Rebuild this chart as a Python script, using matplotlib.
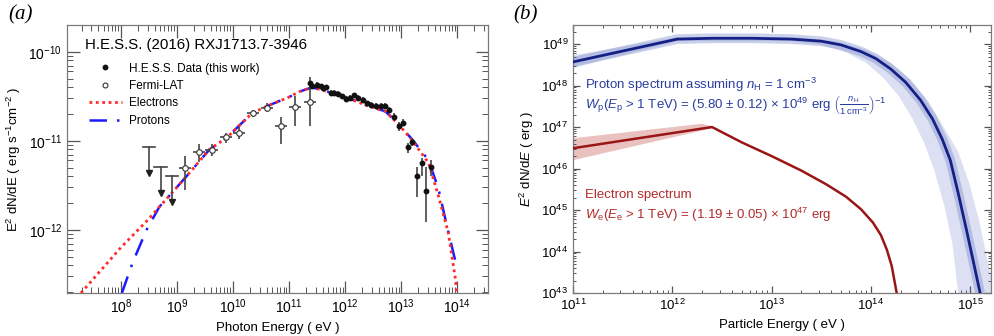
import matplotlib
matplotlib.use("Agg")
import matplotlib.pyplot as plt
import numpy as np
from matplotlib.ticker import LogLocator, NullFormatter
from matplotlib.lines import Line2D

plt.rcParams.update({
    "font.family": "Liberation Sans",
    "mathtext.fontset": "custom",
    "mathtext.rm": "Liberation Sans",
    "mathtext.it": "Liberation Sans:italic",
    "mathtext.bf": "Liberation Sans:bold",
    "font.size": 9.5,
    "axes.linewidth": 0.9,
    "axes.edgecolor": "#7a7a7a",
})

# ---- panel (a): log10 E [eV], log10 E^2 dN/dE [erg s-1 cm-2] ----
hess_logE = [11.37, 11.41, 11.50, 11.57, 11.61, 11.66, 11.75, 11.80, 11.87, 11.95,
             12.01, 12.09, 12.16, 12.23, 12.32, 12.39, 12.47, 12.55, 12.64, 12.71,
             12.78, 12.87, 12.96, 13.04, 13.12, 13.19, 13.28, 13.37, 13.45, 13.53]
hess_logF = [-10.35, -10.39, -10.37, -10.39, -10.41, -10.40, -10.46, -10.46, -10.47, -10.50,
             -10.53, -10.52, -10.49, -10.52, -10.54, -10.58, -10.60, -10.61, -10.61, -10.61,
             -10.65, -10.73, -10.84, -10.80, -11.07, -11.01, -11.40, -11.25, -11.56, -11.30]
hess_err_up = [0.07, 0.03, 0.03, 0.03, 0.03, 0.03, 0.03, 0.03, 0.03, 0.03,
               0.03, 0.03, 0.03, 0.03, 0.03, 0.03, 0.03, 0.03, 0.03, 0.03,
               0.03, 0.04, 0.05, 0.04, 0.05, 0.04, 0.11, 0.06, 0.27, 0.08]
hess_err_dn = [0.08, 0.03, 0.03, 0.03, 0.03, 0.03, 0.03, 0.03, 0.03, 0.03,
               0.03, 0.03, 0.03, 0.03, 0.03, 0.03, 0.03, 0.03, 0.03, 0.03,
               0.03, 0.04, 0.05, 0.04, 0.07, 0.05, 0.23, 0.15, 0.35, 0.10]

fermi_logE = [9.15, 9.39, 9.62, 9.88, 10.11, 10.36, 10.61, 10.86, 11.11, 11.37]
fermi_logF = [-11.31, -11.13, -11.10, -10.96, -10.91, -10.69, -10.63, -10.84, -10.62, -10.57]
fermi_hi = [-11.17, -11.04, -11.04, -10.91, -10.85, -10.65, -10.58, -10.73, -10.50, -10.37]
fermi_lo = [-11.55, -11.24, -11.17, -11.02, -10.98, -10.73, -10.68, -11.04, -10.84, -10.84]
fermi_halfbin = 0.11

ul_logE = [8.50, 8.71, 8.91]
ul_logF = [-11.07, -11.30, -11.40]

el_logE = [7.29, 8.00, 8.48, 8.92, 9.17, 9.58, 9.90, 10.34, 10.65, 11.00, 11.18, 11.41,
           11.59, 12.01, 12.37, 12.72, 12.96, 13.19, 13.49, 13.67, 13.84, 13.97, 13.99]
el_logF = [-12.71, -12.20, -11.89, -11.58, -11.40, -11.10, -10.96, -10.69, -10.60, -10.51,
           -10.45, -10.40, -10.43, -10.51, -10.60, -10.67, -10.82, -10.99, -11.25, -11.63,
           -12.03, -12.56, -12.71]
pr_logE = [8.02, 8.21, 8.46, 8.69, 8.92, 9.17, 9.58, 9.90, 10.34, 10.65, 11.00, 11.18,
           11.41, 11.59, 12.01, 12.37, 12.72, 12.96, 13.19, 13.49, 13.67, 13.81, 13.97]
pr_logF = [-12.71, -12.37, -12.00, -11.74, -11.58, -11.40, -11.10, -10.96, -10.69, -10.60,
           -10.51, -10.45, -10.40, -10.43, -10.51, -10.60, -10.67, -10.82, -10.98, -11.22,
           -11.55, -11.94, -12.36]

a_xticks = [1e8, 1e9, 1e10, 1e11, 1e12, 1e13, 1e14]
a_yticks = [1e-12, 1e-11, 1e-10]

# ---- panel (b): log10 E [eV], log10 E^2 dN/dE [erg] ----
p_logE = [11.00, 12.05, 12.40, 12.80, 13.20, 13.50, 13.70, 13.90, 14.05, 14.20,
          14.35, 14.50, 14.62, 14.72, 14.80, 14.88, 14.96, 15.03, 15.10]
p_logW = [48.57, 49.12, 49.14, 49.14, 49.12, 49.07, 48.98, 48.82, 48.65, 48.40,
          48.08, 47.65, 47.20, 46.70, 46.20, 45.40, 44.55, 43.78, 43.00]
p_hi_logE = [11.00, 12.05, 13.30, 13.65, 13.95, 14.20, 14.40, 14.58, 14.72, 14.88,
             14.99, 15.09, 15.17, 15.25]
p_hi_logW = [48.73, 49.17, 49.16, 49.07, 48.86, 48.55, 48.15, 47.62, 47.05, 46.40,
             45.65, 44.75, 43.85, 43.00]
p_lo_logE = [11.00, 12.05, 13.20, 13.50, 13.75, 13.95, 14.12, 14.28, 14.42, 14.54,
             14.64, 14.74, 14.82, 14.88]
p_lo_logW = [48.42, 49.07, 49.07, 48.98, 48.80, 48.55, 48.20, 47.75, 47.20, 46.60,
             45.95, 45.10, 44.20, 43.00]

e_logE = [11.00, 12.40, 12.70, 13.00, 13.30, 13.55, 13.75, 13.90, 14.02, 14.10,
          14.16, 14.21, 14.26]
e_logW = [46.49, 47.00, 46.63, 46.30, 45.95, 45.62, 45.32, 45.02, 44.70, 44.40,
          44.05, 43.65, 43.00]
e_hi_logE = [11.00, 12.30, 12.40]
e_hi_logW = [46.73, 47.08, 47.02]
e_lo_logE = [11.00, 12.40]
e_lo_logW = [46.20, 46.97]

b_xticks = [1e11, 1e12, 1e13, 1e14, 1e15]
b_yticks = [1e43, 1e44, 1e45, 1e46, 1e47, 1e48, 1e49]


def p10(v):
    return 10.0 ** np.asarray(v, dtype=float)


def log_ticks(a, xt, yt, major_len, minor_len, lsize):
    a.set_xticks(xt)
    a.set_yticks(yt)
    a.xaxis.set_minor_locator(LogLocator(base=10, subs=np.arange(2, 10), numticks=40))
    a.yaxis.set_minor_locator(LogLocator(base=10, subs=np.arange(2, 10), numticks=40))
    a.xaxis.set_minor_formatter(NullFormatter())
    a.yaxis.set_minor_formatter(NullFormatter())
    a.tick_params(which="both", direction="in", top=True, right=True, color="#555555",
                  labelsize=lsize)
    a.tick_params(which="major", length=major_len, width=0.9)
    a.tick_params(which="minor", length=minor_len, width=0.7)


fig = plt.figure(figsize=(9.95, 3.36), dpi=100)
ax = fig.add_axes([0.0673, 0.128, 0.4232, 0.7976])
bx = fig.add_axes([0.5759, 0.128, 0.4201, 0.7976])

# =========== panel (a) ===========
ax.plot(p10(pr_logE), p10(pr_logF), color="#1a1aff", lw=1.8,
        linestyle=(0, (7, 4, 1, 4)), zorder=2)
ax.plot(p10(el_logE), p10(el_logF), color="#ff2a2a", lw=2.0,
        linestyle=(0, (1, 1.3)), zorder=3)

fe = p10(fermi_logE)
ff = p10(fermi_logF)
ax.errorbar(fe, ff,
            xerr=[fe - fe * 10 ** -fermi_halfbin, fe * 10 ** fermi_halfbin - fe],
            yerr=[ff - p10(fermi_lo), p10(fermi_hi) - ff],
            fmt="o", ms=4, mfc="white", mec="#333333", mew=0.8,
            ecolor="#444444", elinewidth=1.2, capsize=0, zorder=4)

# Fermi-LAT upper limits: cap + line + arrow head
ue = p10(ul_logE)
uf = p10(ul_logF)
for e, f in zip(ue, uf):
    ax.plot([e, e], [f, f * 10 ** -0.27], color="#444444", lw=1.2, zorder=4)
    ax.plot([e * 10 ** -0.11, e * 10 ** 0.11], [f, f], color="#444444", lw=1.2, zorder=4)
ax.plot(ue, uf * 10 ** -0.29, "v", color="#222222", ms=4, zorder=4)

he = p10(hess_logE)
hf = p10(hess_logF)
ax.errorbar(he, hf,
            yerr=[hf - hf * 10 ** -np.array(hess_err_dn), hf * 10 ** np.array(hess_err_up) - hf],
            fmt="o", ms=3.2, color="#111111", ecolor="#444444", elinewidth=1.2,
            capsize=0, zorder=5)

ax.set_xscale("log")
ax.set_yscale("log")
ax.set_xlim(10 ** 7.04, 10 ** 14.55)
ax.set_ylim(10 ** -12.71, 10 ** -9.70)
log_ticks(ax, a_xticks, a_yticks, 9, 4, 10)
ax.set_xlabel("Photon Energy ( eV )", fontsize=9.5)
ax.set_ylabel("E$^2$ dN/dE ( erg s$^{-1}$cm$^{-2}$ )", fontsize=9.5, labelpad=4)

ax.text(0.043, 0.925, "H.E.S.S. (2016) RXJ1713.7-3946", transform=ax.transAxes,
        fontsize=10.8, ha="left", va="center")
handles = [
    Line2D([], [], marker="o", ls="none", ms=3.2, color="#111111"),
    Line2D([], [], marker="o", ls="none", ms=3.5, mfc="white", mec="#333333", mew=0.8),
    Line2D([], [], color="#ff2a2a", lw=2.0, linestyle=(0, (1, 1.3))),
    Line2D([], [], color="#1a1aff", lw=1.8, linestyle=(0, (7, 4, 1, 4))),
]
labels = ["H.E.S.S. Data (this work)", "Fermi-LAT", "Electrons", "Protons"]
ax.legend(handles, labels, loc="upper left", bbox_to_anchor=(0.052, 0.86),
          frameon=False, fontsize=8.5, borderpad=0, borderaxespad=0,
          handlelength=2.8, handletextpad=0.6, labelspacing=0.46)

# =========== panel (b) ===========
bx.fill(np.concatenate([p10(p_hi_logE), p10(p_lo_logE)[::-1]]),
        np.concatenate([p10(p_hi_logW), p10(p_lo_logW)[::-1]]),
        color="#8c9bd4", alpha=0.3, lw=0, zorder=1)
bx.plot(p10(p_logE), p10(p_logW), color="#6b7cc4", lw=7, alpha=0.35,
        solid_capstyle="butt", zorder=2)
bx.plot(p10(p_logE), p10(p_logW), color="#142086", lw=2.0, zorder=3)

bx.fill(np.concatenate([p10(e_hi_logE), p10(e_lo_logE)[::-1]]),
        np.concatenate([p10(e_hi_logW), p10(e_lo_logW)[::-1]]),
        color="#c0504d", alpha=0.35, lw=0, zorder=1)
bx.plot(p10(e_logE), p10(e_logW), color="#9a1515", lw=1.8, zorder=3)

bx.set_xscale("log")
bx.set_yscale("log")
bx.set_xlim(1e11, 10 ** 15.21)
bx.set_ylim(1e43, 10 ** 49.46)
log_ticks(bx, b_xticks, b_yticks, 5, 2.5, 9.5)
bx.set_xlabel("Particle Energy ( eV )", fontsize=9.5)
bx.set_ylabel("$E^2$ dN/d$E$ ( erg )", fontsize=9.5, labelpad=4)

blue_txt = "#2a3c9e"
red_txt = "#b02a2a"
bx.text(0.029, 0.776, r"Proton spectrum assuming $n_\mathrm{H}$ = 1 cm$^{-3}$",
        transform=bx.transAxes, color=blue_txt, fontsize=9.5, va="center")
bx.text(0.029, 0.700,
        r"$W_\mathrm{p}(E_\mathrm{p}$ > 1 TeV) = (5.80 $\pm$ 0.12) $\times$ 10$^{49}$ erg "
        r"$\left(\frac{n_\mathrm{H}}{1\,\mathrm{cm}^{-3}}\right)^{-1}$",
        transform=bx.transAxes, color=blue_txt, fontsize=9.5, va="center")
bx.text(0.029, 0.366, "Electron spectrum", transform=bx.transAxes,
        color=red_txt, fontsize=9.5, va="center")
bx.text(0.029, 0.291,
        r"$W_\mathrm{e}(E_\mathrm{e}$ > 1 TeV) = (1.19 $\pm$ 0.05) $\times$ 10$^{47}$ erg",
        transform=bx.transAxes, color=red_txt, fontsize=9.5, va="center")

fig.text(0.008, 0.955, "(a)", family="Liberation Serif", style="italic", fontsize=15,
         va="center")
fig.text(0.516, 0.955, "(b)", family="Liberation Serif", style="italic", fontsize=15,
         va="center")

fig.savefig("out.png", dpi=100)
